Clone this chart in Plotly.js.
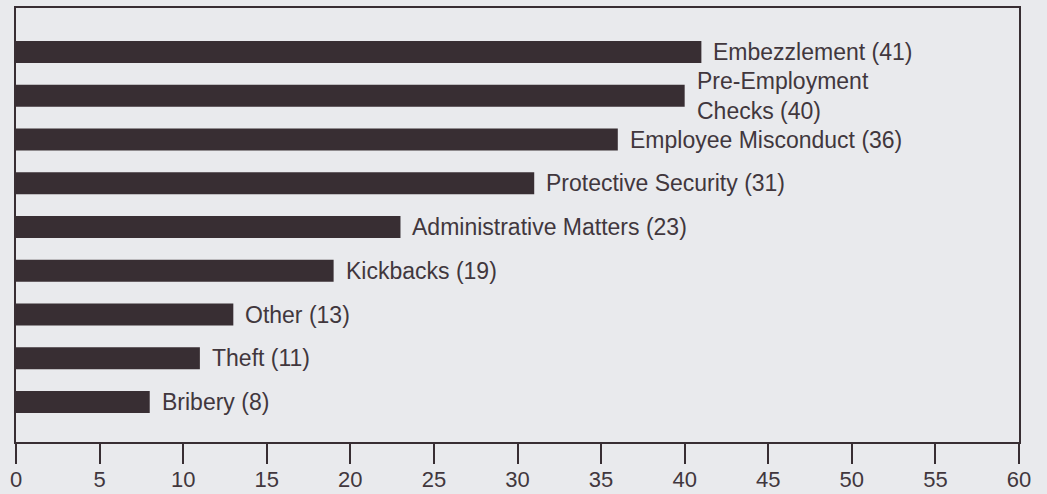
<!DOCTYPE html>
<html>
<head>
<meta charset="utf-8">
<script src="https://cdn.plot.ly/plotly-3.0.1.min.js"></script>
<style>
  html, body { margin: 0; padding: 0; background: #e9eaed; }
  #chart { width: 1047px; height: 494px; }
</style>
</head>
<body>
<div id="chart"></div>
<script>
// Investigation categories, listed top to bottom
const categories = [
  "Embezzlement",
  "Pre-Employment<br>Checks",
  "Employee Misconduct",
  "Protective Security",
  "Administrative Matters",
  "Kickbacks",
  "Other",
  "Theft",
  "Bribery"
];
const counts = [41, 40, 36, 31, 23, 19, 13, 11, 8];
const xTicks = [0, 5, 10, 15, 20, 25, 30, 35, 40, 45, 50, 55, 60];

const ink = "#382e33";
const textInk = "#41373d";
const paper = "#e9eaed";

const bars = {
  type: "bar",
  orientation: "h",
  x: counts,
  y: categories,
  width: 0.5,
  marker: { color: ink, line: { width: 0 } },
  hoverinfo: "skip"
};

// Value labels to the right of each bar
const labels = categories.map((c, i) => ({
  x: counts[i],
  y: c,
  xref: "x",
  yref: "y",
  text: c + " (" + counts[i] + ")",
  showarrow: false,
  xanchor: "left",
  yanchor: "middle",
  align: "left",
  xshift: 10,
  font: { family: "Liberation Sans, Arial, sans-serif", size: 23, color: textInk }
}));

const layout = {
  width: 1047,
  height: 494,
  margin: { l: 16, r: 28, t: 8, b: 52 },
  paper_bgcolor: paper,
  plot_bgcolor: paper,
  showlegend: false,
  font: { family: "Liberation Sans, Arial, sans-serif", size: 22, color: textInk },
  xaxis: {
    range: [0, 60],
    tickmode: "array",
    tickvals: xTicks,
    ticktext: xTicks.map(String),
    ticks: "outside",
    ticklen: 20,
    tickwidth: 2,
    tickcolor: ink,
    ticklabelstandoff: -3,
    showline: true,
    linecolor: ink,
    linewidth: 2,
    mirror: true,
    showgrid: false,
    zeroline: false,
    fixedrange: true,
    tickfont: { family: "Liberation Sans, Arial, sans-serif", size: 22, color: textInk }
  },
  yaxis: {
    type: "category",
    categoryorder: "array",
    categoryarray: categories,
    range: [8.914, -1.006],
    showticklabels: false,
    ticks: "",
    showline: true,
    linecolor: ink,
    linewidth: 2,
    mirror: true,
    showgrid: false,
    zeroline: false,
    fixedrange: true
  },
  annotations: labels
};

Plotly.newPlot("chart", [bars], layout, { staticPlot: true, displayModeBar: false });
</script>
</body>
</html>
